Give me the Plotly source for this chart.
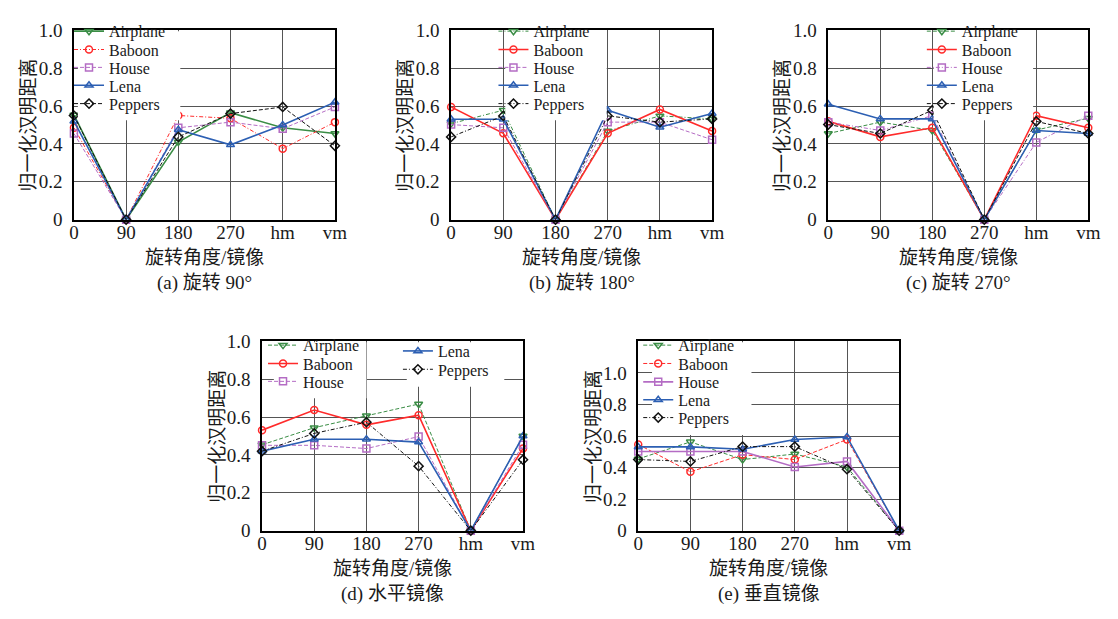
import plotly.graph_objects as go

# ---------------- data ----------------
categories = ["0", "90", "180", "270", "hm", "vm"]
series_names = ["Airplane", "Baboon", "House", "Lena", "Peppers"]
y_tick_vals = [0, 0.2, 0.4, 0.6, 0.8, 1.0]
y_tick_text = ["0", "0.2", "0.4", "0.6", "0.8", "1.0"]
panel_captions = ["(a) 旋转 90°", "(b) 旋转 180°", "(c) 旋转 270°", "(d) 水平镜像", "(e) 垂直镜像"]
y_title = "归一化汉明距离"
x_title = "旋转角度/镜像"

# (a) rotation 90
a_airplane = [0.553, 0, 0.41, 0.565, 0.485, 0.455]
a_baboon = [0.485, 0, 0.55, 0.535, 0.375, 0.515]
a_house = [0.455, 0, 0.485, 0.515, 0.48, 0.595]
a_lena = [0.52, 0, 0.475, 0.395, 0.50, 0.62]
a_peppers = [0.55, 0, 0.437, 0.56, 0.595, 0.39]

# (b) rotation 180
b_airplane = [0.507, 0.578, 0, 0.468, 0.548, 0.532]
b_baboon = [0.595, 0.456, 0, 0.456, 0.582, 0.468]
b_house = [0.502, 0.485, 0, 0.515, 0.515, 0.422]
b_lena = [0.53, 0.53, 0, 0.578, 0.488, 0.561]
b_peppers = [0.437, 0.548, 0, 0.548, 0.515, 0.532]

# (c) rotation 270
c_airplane = [0.455, 0.515, 0.471, 0, 0.473, 0.536]
c_baboon = [0.519, 0.437, 0.485, 0, 0.549, 0.485]
c_house = [0.515, 0.471, 0.549, 0, 0.408, 0.549]
c_lena = [0.609, 0.532, 0.532, 0, 0.471, 0.455]
c_peppers = [0.502, 0.455, 0.578, 0, 0.519, 0.455]

# (d) horizontal mirror
d_airplane = [0.454, 0.544, 0.607, 0.669, 0, 0.50]
d_baboon = [0.531, 0.637, 0.559, 0.61, 0, 0.434]
d_house = [0.451, 0.451, 0.434, 0.497, 0, 0.454]
d_lena = [0.42, 0.483, 0.483, 0.468, 0, 0.50]
d_peppers = [0.42, 0.514, 0.573, 0.341, 0, 0.375]

# (e) vertical mirror
e_airplane = [0.455, 0.563, 0.451, 0.486, 0.404, 0]
e_baboon = [0.547, 0.373, 0.482, 0.451, 0.578, 0]
e_house = [0.502, 0.502, 0.502, 0.404, 0.439, 0]
e_lena = [0.531, 0.531, 0.516, 0.578, 0.594, 0]
e_peppers = [0.451, 0.439, 0.533, 0.533, 0.39, 0]

panel_data = [
    [a_airplane, a_baboon, a_house, a_lena, a_peppers],
    [b_airplane, b_baboon, b_house, b_lena, b_peppers],
    [c_airplane, c_baboon, c_house, c_lena, c_peppers],
    [d_airplane, d_baboon, d_house, d_lena, d_peppers],
    [e_airplane, e_baboon, e_house, e_lena, e_peppers],
]
y_max = [1.0, 1.0, 1.0, 1.0, 1.2]

# ---------------- styles / layout ----------------
W, H = 1118, 619
FONT = "Liberation Serif, Times New Roman, Noto Sans CJK SC, serif"
TXT = "#1a1a1a"

colors = {"Airplane": "#3a8d45", "Baboon": "#ff2b2b", "House": "#b46cc4",
          "Lena": "#2c5fb3", "Peppers": "#111111"}
symbols = {"Airplane": "triangle-down-open", "Baboon": "circle-open", "House": "square-open",
           "Lena": "triangle-up-open", "Peppers": "diamond-open"}
SOLID = ("solid", 1.6)
DASH = ("4px,2px", 1.0)
DDOT = ("4px,2px,1px,2px", 1.0)
panel_styles = [
    [SOLID, DDOT, DASH, SOLID, DASH],
    [DDOT, SOLID, DASH, SOLID, DDOT],
    [DASH, SOLID, DDOT, SOLID, DASH],
    [DASH, SOLID, DASH, SOLID, DDOT],
    [DASH, DASH, SOLID, SOLID, DDOT],
]

# plot area in pixels: left, right, top, bottom
panel_box = [(70, 335, 21, 217), (453, 718, 21, 217), (836, 1100, 21, 217),
             (261, 526, 343, 539), (643, 908, 343, 539)]
# legend entries: (marker x, row centre y) in pixels
r5 = [31, 50, 68.5, 87, 106]
legend_pos = [
    [(91, y) for y in r5],
    [(522, y) for y in r5],
    [(957, y) for y in r5],
    [(288, 356), (288, 375), (288, 393.5), (425, 362), (425, 381)],
    [(669, 356), (669, 375), (669, 394), (669, 412.5), (669, 431)],
]
legend_bg = [
    [(74, 178, 22, 114)],
    [(508, 611, 22, 114)],
    [(943, 1044, 22, 114)],
    [(273, 367, 344, 402), (408, 507, 344, 390)],
    [(657, 758, 344, 440)],
]
LEG_DX, LEG_DY = 26, -9   # plotly legend internal offsets (marker centre vs legend anchor)


def px(x):
    return x / W


def py(y):
    return 1 - y / H


fig = go.Figure()
layout = dict(width=W, height=H, margin=dict(l=0, r=0, t=0, b=0),
              paper_bgcolor="white", plot_bgcolor="white", showlegend=True)
annotations = []
shapes = []
legend_idx = 0

for p in range(5):
    sfx = "" if p == 0 else str(p + 1)
    xa, ya = "xaxis" + sfx, "yaxis" + sfx
    xr, yr = "x" + sfx, "y" + sfx
    l, r, t, b = panel_box[p]
    layout[xa] = dict(domain=[px(l), px(r)], anchor=yr, type="category",
                      categoryorder="array", categoryarray=categories, range=[0, 5],
                      showgrid=True, gridcolor="#555555", gridwidth=1.2,
                      showline=True, linecolor="black", linewidth=1.5, mirror=True,
                      zeroline=False, ticks="", ticklabelstandoff=-5,
                      tickfont=dict(family=FONT, size=19, color=TXT), fixedrange=True)
    layout[ya] = dict(domain=[py(b), py(t)], anchor=xr, range=[0, y_max[p]],
                      tickvals=y_tick_vals, ticktext=y_tick_text,
                      showgrid=True, gridcolor="#555555", gridwidth=1.2,
                      showline=True, linecolor="black", linewidth=1.5, mirror=True,
                      zeroline=False, ticks="", ticklabelstandoff=6,
                      tickfont=dict(family=FONT, size=19, color=TXT), fixedrange=True)
    for s, name in enumerate(series_names):
        legend_idx += 1
        lname = "legend" if legend_idx == 1 else "legend%d" % legend_idx
        dash, lw = panel_styles[p][s]
        fig.add_trace(go.Scatter(
            x=categories, y=panel_data[p][s], name=name, mode="lines+markers",
            xaxis=xr, yaxis=yr, legend=lname, cliponaxis=False,
            line=dict(color=colors[name], width=lw, dash=dash),
            marker=dict(symbol=symbols[name], size=7, color=colors[name],
                        line=dict(color=colors[name], width=1.5))))
        mx, my = legend_pos[p][s]
        layout[lname] = dict(x=px(mx - LEG_DX), y=py(my + LEG_DY), xanchor="left",
                             yanchor="middle", bgcolor="rgba(0,0,0,0)", borderwidth=0,
                             itemwidth=30, font=dict(family=FONT, size=16, color=TXT))
    for (x0, x1, y0, y1) in legend_bg[p]:
        shapes.append(dict(type="rect", xref="paper", yref="paper", layer="above",
                           x0=px(x0), x1=px(x1), y0=py(y1), y1=py(y0),
                           fillcolor="white", line=dict(width=0)))
    cx = (l + r) / 2
    annotations.append(dict(text=y_title, xref="paper", yref="paper", x=px(l - 46),
                            y=py((t + b) / 2), textangle=-90, showarrow=False,
                            xanchor="center", yanchor="middle",
                            font=dict(family=FONT, size=19, color=TXT)))
    annotations.append(dict(text=x_title, xref="paper", yref="paper", x=px(cx),
                            y=py(b + 39), showarrow=False, xanchor="center", yanchor="middle",
                            font=dict(family=FONT, size=19, color=TXT)))
    annotations.append(dict(text=panel_captions[p], xref="paper", yref="paper", x=px(cx),
                            y=py(b + 66), showarrow=False, xanchor="center", yanchor="middle",
                            font=dict(family=FONT, size=19, color=TXT)))

layout["annotations"] = annotations
layout["shapes"] = shapes
fig.update_layout(**layout)
fig.write_html("out.html")
